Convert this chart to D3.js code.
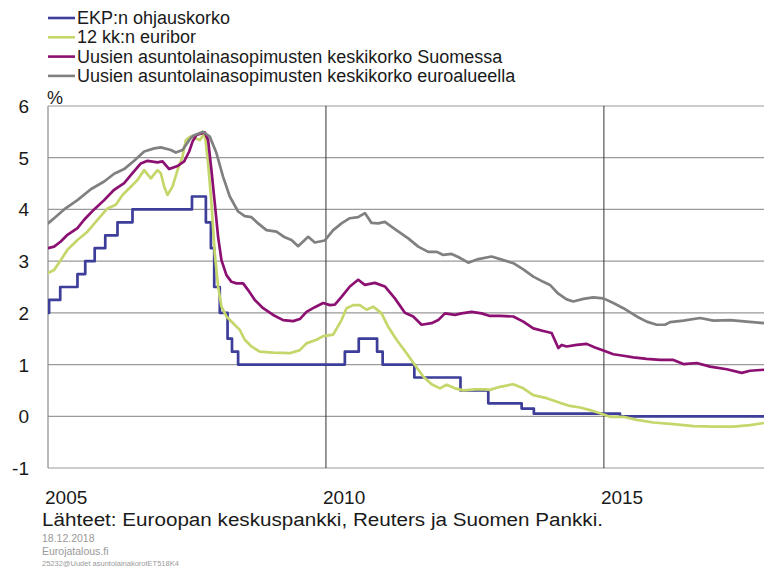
<!DOCTYPE html>
<html>
<head>
<meta charset="utf-8">
<script src="https://cdn.jsdelivr.net/npm/d3@7"></script>
<style>
  html, body { margin: 0; padding: 0; background: #fff; }
  svg { display: block; font-family: "Liberation Sans", Arial, sans-serif; }
</style>
</head>
<body>
<svg id="chart" width="764" height="574"></svg>
<script>
// ---- Data (x = position in chart years, y = percent) ----
const seriesNames = [
  "EKP:n ohjauskorko",
  "12 kk:n euribor",
  "Uusien asuntolainasopimusten keskikorko Suomessa",
  "Uusien asuntolainasopimusten keskikorko euroalueella"
];
const seriesColors = ["#3d3d9a", "#c5d66a", "#8c1072", "#808080"];

const yTicks = [-1, 0, 1, 2, 3, 4, 5, 6];
const xTickValues = [2005, 2010, 2015];
const xTickLabels = ["2005", "2010", "2015"];

// ECB policy rate (step changes)
const ecbYears = [2005.00, 2005.02, 2005.22, 2005.53, 2005.67, 2005.84, 2006.03, 2006.25, 2006.52,
  2007.59, 2007.84, 2007.93, 2007.99, 2008.09, 2008.23, 2008.31, 2008.42,
  2010.34, 2010.59, 2010.92, 2011.02, 2011.59, 2012.42, 2012.92, 2013.52, 2013.74, 2015.29, 2017.88];
const ecbValues = [2.00, 2.25, 2.50, 2.75, 3.00, 3.25, 3.50, 3.75, 4.00,
  4.25, 3.75, 3.25, 2.50, 2.00, 1.50, 1.25, 1.00,
  1.25, 1.50, 1.25, 1.00, 0.75, 0.50, 0.25, 0.15, 0.05, 0.00, 0.00];

// 12-month Euribor
const euriborYears = [2005.00, 2005.11, 2005.23, 2005.35, 2005.53, 2005.71, 2005.89, 2006.07, 2006.22, 2006.34,
  2006.49, 2006.61, 2006.73, 2006.85, 2006.97, 2007.03, 2007.09, 2007.15, 2007.24, 2007.33,
  2007.42, 2007.48, 2007.56, 2007.64, 2007.73, 2007.82, 2007.88, 2007.94, 2008.00, 2008.06,
  2008.12, 2008.21, 2008.33, 2008.45, 2008.54, 2008.66, 2008.81, 2009.05, 2009.35, 2009.53,
  2009.65, 2009.83, 2009.95, 2010.13, 2010.28, 2010.37, 2010.49, 2010.61, 2010.73, 2010.85,
  2011.00, 2011.12, 2011.27, 2011.45, 2011.60, 2011.75, 2011.90, 2012.05, 2012.17, 2012.32,
  2012.47, 2012.68, 2012.86, 2012.95, 2013.13, 2013.37, 2013.55, 2013.73, 2013.97, 2014.21,
  2014.39, 2014.57, 2014.75, 2014.93, 2015.11, 2015.35, 2015.59, 2015.89, 2016.25, 2016.61,
  2016.97, 2017.33, 2017.63, 2017.88];
const euriborValues = [2.77, 2.83, 3.02, 3.22, 3.41, 3.57, 3.80, 4.02, 4.09, 4.28,
  4.44, 4.57, 4.76, 4.60, 4.76, 4.70, 4.44, 4.28, 4.44, 4.76,
  5.02, 5.34, 5.41, 5.38, 5.34, 5.47, 4.89, 4.12, 3.15, 2.51,
  2.12, 1.93, 1.80, 1.67, 1.48, 1.35, 1.25, 1.23, 1.22, 1.28,
  1.41, 1.48, 1.55, 1.58, 1.86, 2.09, 2.15, 2.15, 2.06, 2.12,
  1.99, 1.73, 1.48, 1.22, 0.99, 0.77, 0.62, 0.54, 0.61, 0.54,
  0.50, 0.52, 0.52, 0.51, 0.57, 0.62, 0.54, 0.41, 0.35, 0.26,
  0.20, 0.17, 0.12, 0.06, -0.01, -0.01, -0.07, -0.12, -0.15, -0.19,
  -0.20, -0.20, -0.17, -0.13];

// New housing loans, Finland
const finlandYears = [2005.00, 2005.11, 2005.23, 2005.35, 2005.53, 2005.65, 2005.83, 2006.01, 2006.19, 2006.37,
  2006.52, 2006.67, 2006.79, 2006.97, 2007.06, 2007.18, 2007.33, 2007.45, 2007.54, 2007.60,
  2007.67, 2007.82, 2007.88, 2007.94, 2008.00, 2008.06, 2008.12, 2008.21, 2008.30, 2008.39,
  2008.51, 2008.60, 2008.72, 2008.87, 2009.05, 2009.23, 2009.41, 2009.53, 2009.65, 2009.80,
  2009.95, 2010.07, 2010.16, 2010.28, 2010.43, 2010.58, 2010.70, 2010.88, 2011.06, 2011.24,
  2011.42, 2011.57, 2011.72, 2011.90, 2012.02, 2012.14, 2012.32, 2012.44, 2012.62, 2012.80,
  2012.95, 2013.13, 2013.37, 2013.55, 2013.73, 2013.91, 2014.06, 2014.18, 2014.24, 2014.33,
  2014.51, 2014.69, 2014.84, 2014.99, 2015.17, 2015.35, 2015.53, 2015.77, 2016.01, 2016.25,
  2016.43, 2016.67, 2016.91, 2017.21, 2017.48, 2017.63, 2017.88];
const finlandValues = [3.25, 3.28, 3.38, 3.51, 3.64, 3.80, 4.00, 4.18, 4.38, 4.51,
  4.70, 4.89, 4.94, 4.91, 4.93, 4.78, 4.84, 4.93, 5.12, 5.31,
  5.44, 5.49, 5.34, 4.76, 4.12, 3.47, 3.02, 2.73, 2.60, 2.57,
  2.57, 2.44, 2.25, 2.09, 1.96, 1.86, 1.84, 1.88, 2.02, 2.11,
  2.19, 2.15, 2.16, 2.31, 2.51, 2.64, 2.54, 2.58, 2.51, 2.28,
  2.00, 1.93, 1.77, 1.80, 1.86, 1.99, 1.96, 1.99, 2.02, 1.99,
  1.94, 1.94, 1.93, 1.83, 1.70, 1.65, 1.61, 1.32, 1.38, 1.35,
  1.38, 1.40, 1.33, 1.27, 1.20, 1.17, 1.14, 1.11, 1.09, 1.09,
  1.01, 1.03, 0.96, 0.91, 0.84, 0.88, 0.90];

// New housing loans, euro area
const euroAreaYears = [2005.00, 2005.11, 2005.29, 2005.53, 2005.77, 2006.01, 2006.19, 2006.37, 2006.55, 2006.73,
  2006.91, 2007.03, 2007.21, 2007.30, 2007.42, 2007.54, 2007.60, 2007.79, 2007.91, 2008.03,
  2008.15, 2008.27, 2008.42, 2008.54, 2008.66, 2008.78, 2008.93, 2009.11, 2009.26, 2009.38,
  2009.50, 2009.68, 2009.80, 2009.98, 2010.13, 2010.28, 2010.43, 2010.58, 2010.70, 2010.82,
  2010.94, 2011.06, 2011.24, 2011.48, 2011.66, 2011.84, 2011.99, 2012.11, 2012.26, 2012.38,
  2012.56, 2012.74, 2012.98, 2013.19, 2013.37, 2013.55, 2013.73, 2013.91, 2014.03, 2014.18,
  2014.33, 2014.45, 2014.63, 2014.81, 2014.99, 2015.17, 2015.35, 2015.59, 2015.77, 2015.95,
  2016.10, 2016.19, 2016.43, 2016.73, 2016.97, 2017.27, 2017.57, 2017.88];
const euroAreaValues = [3.73, 3.83, 4.00, 4.18, 4.39, 4.54, 4.69, 4.78, 4.94, 5.12,
  5.18, 5.20, 5.15, 5.10, 5.15, 5.34, 5.42, 5.50, 5.41, 5.09,
  4.63, 4.25, 3.96, 3.87, 3.85, 3.73, 3.60, 3.57, 3.46, 3.41,
  3.29, 3.47, 3.36, 3.40, 3.60, 3.73, 3.83, 3.85, 3.93, 3.74,
  3.73, 3.76, 3.62, 3.44, 3.28, 3.18, 3.18, 3.12, 3.14, 3.08,
  2.97, 3.04, 3.09, 3.02, 2.96, 2.84, 2.70, 2.60, 2.54, 2.37,
  2.26, 2.22, 2.27, 2.30, 2.28, 2.19, 2.09, 1.93, 1.83, 1.77,
  1.77, 1.82, 1.85, 1.90, 1.85, 1.86, 1.83, 1.80];

const footerSource = "Lähteet: Euroopan keskuspankki, Reuters ja Suomen Pankki.";
const footerDate = "18.12.2018";
const footerSite = "Eurojatalous.fi";
const footerCode = "25232@Uudet asuntolainakorotET518K4";

// ---- Layout ----
const svg = d3.select("#chart");
const plot = { left: 48, right: 764, top: 106, bottom: 468 };

const x = d3.scaleLinear().domain([2005, 2017.88]).range([plot.left, plot.right]);
const y = d3.scaleLinear().domain([-1, 6]).range([plot.bottom, plot.top]);

// Horizontal gridlines
svg.append("g").selectAll("line").data(yTicks).join("line")
  .attr("x1", plot.left).attr("x2", plot.right)
  .attr("y1", d => y(d)).attr("y2", d => y(d))
  .attr("stroke", "#9a9a9a").attr("stroke-width", 1.2);

// Vertical gridlines at 2010, 2015
svg.append("g").selectAll("line").data(xTickValues.slice(1)).join("line")
  .attr("x1", d => x(d)).attr("x2", d => x(d))
  .attr("y1", plot.top).attr("y2", plot.bottom)
  .attr("stroke", "#333").attr("stroke-width", 1);

// Left axis line
svg.append("line")
  .attr("x1", plot.left).attr("x2", plot.left)
  .attr("y1", plot.top).attr("y2", plot.bottom)
  .attr("stroke", "#8a8a8a").attr("stroke-width", 1.2);

// Y tick labels
svg.append("g").selectAll("text").data(yTicks).join("text")
  .attr("x", 29).attr("y", d => y(d) + 7)
  .attr("text-anchor", "end")
  .attr("font-size", 19).attr("fill", "#1a1a1a")
  .text(d => d);

svg.append("text").attr("x", 47).attr("y", 104)
  .attr("font-size", 18).attr("fill", "#1a1a1a").text("%");

// X tick labels
svg.append("g").selectAll("text").data(xTickValues).join("text")
  .attr("x", d => x(d) - 3).attr("y", 504)
  .attr("font-size", 19).attr("fill", "#1a1a1a")
  .text((d, i) => xTickLabels[i]);

// Series lines
const line = d3.line().x(d => x(d[0])).y(d => y(d[1]));
const stepLine = d3.line().x(d => x(d[0])).y(d => y(d[1])).curve(d3.curveStepAfter);

const seriesData = [
  d3.zip(ecbYears, ecbValues),
  d3.zip(euriborYears, euriborValues),
  d3.zip(finlandYears, finlandValues),
  d3.zip(euroAreaYears, euroAreaValues)
];

svg.append("clipPath").attr("id", "clip").append("rect")
  .attr("x", plot.left).attr("y", plot.top - 10)
  .attr("width", plot.right - plot.left).attr("height", plot.bottom - plot.top + 10);

const lines = svg.append("g").attr("clip-path", "url(#clip)");
seriesData.forEach((data, i) => {
  lines.append("path")
    .datum(data)
    .attr("d", i === 0 ? stepLine : line)
    .attr("fill", "none")
    .attr("stroke", seriesColors[i])
    .attr("stroke-width", 2.7)
    .attr("stroke-linejoin", "round")
    .attr("stroke-linecap", "round");
});

// Legend
const legend = svg.append("g");
seriesNames.forEach((name, i) => {
  const cy = 18 + i * 19.3;
  legend.append("line")
    .attr("x1", 48).attr("x2", 75).attr("y1", cy).attr("y2", cy)
    .attr("stroke", seriesColors[i]).attr("stroke-width", 2.6);
  legend.append("text")
    .attr("x", 77).attr("y", cy + 6)
    .attr("font-size", 18).attr("fill", "#1a1a1a")
    .text(name);
});

// Footer
svg.append("text").attr("x", 42).attr("y", 526)
  .attr("font-size", 18).attr("fill", "#1a1a1a")
  .attr("textLength", 561).attr("lengthAdjust", "spacingAndGlyphs")
  .text(footerSource);
svg.append("text").attr("x", 42).attr("y", 542)
  .attr("font-size", 10.5).attr("fill", "#9a9a9a").text(footerDate);
svg.append("text").attr("x", 42).attr("y", 555)
  .attr("font-size", 10.5).attr("fill", "#9a9a9a").text(footerSite);
svg.append("text").attr("x", 42).attr("y", 566)
  .attr("font-size", 7.5).attr("fill", "#9a9a9a").text(footerCode);
</script>
</body>
</html>
